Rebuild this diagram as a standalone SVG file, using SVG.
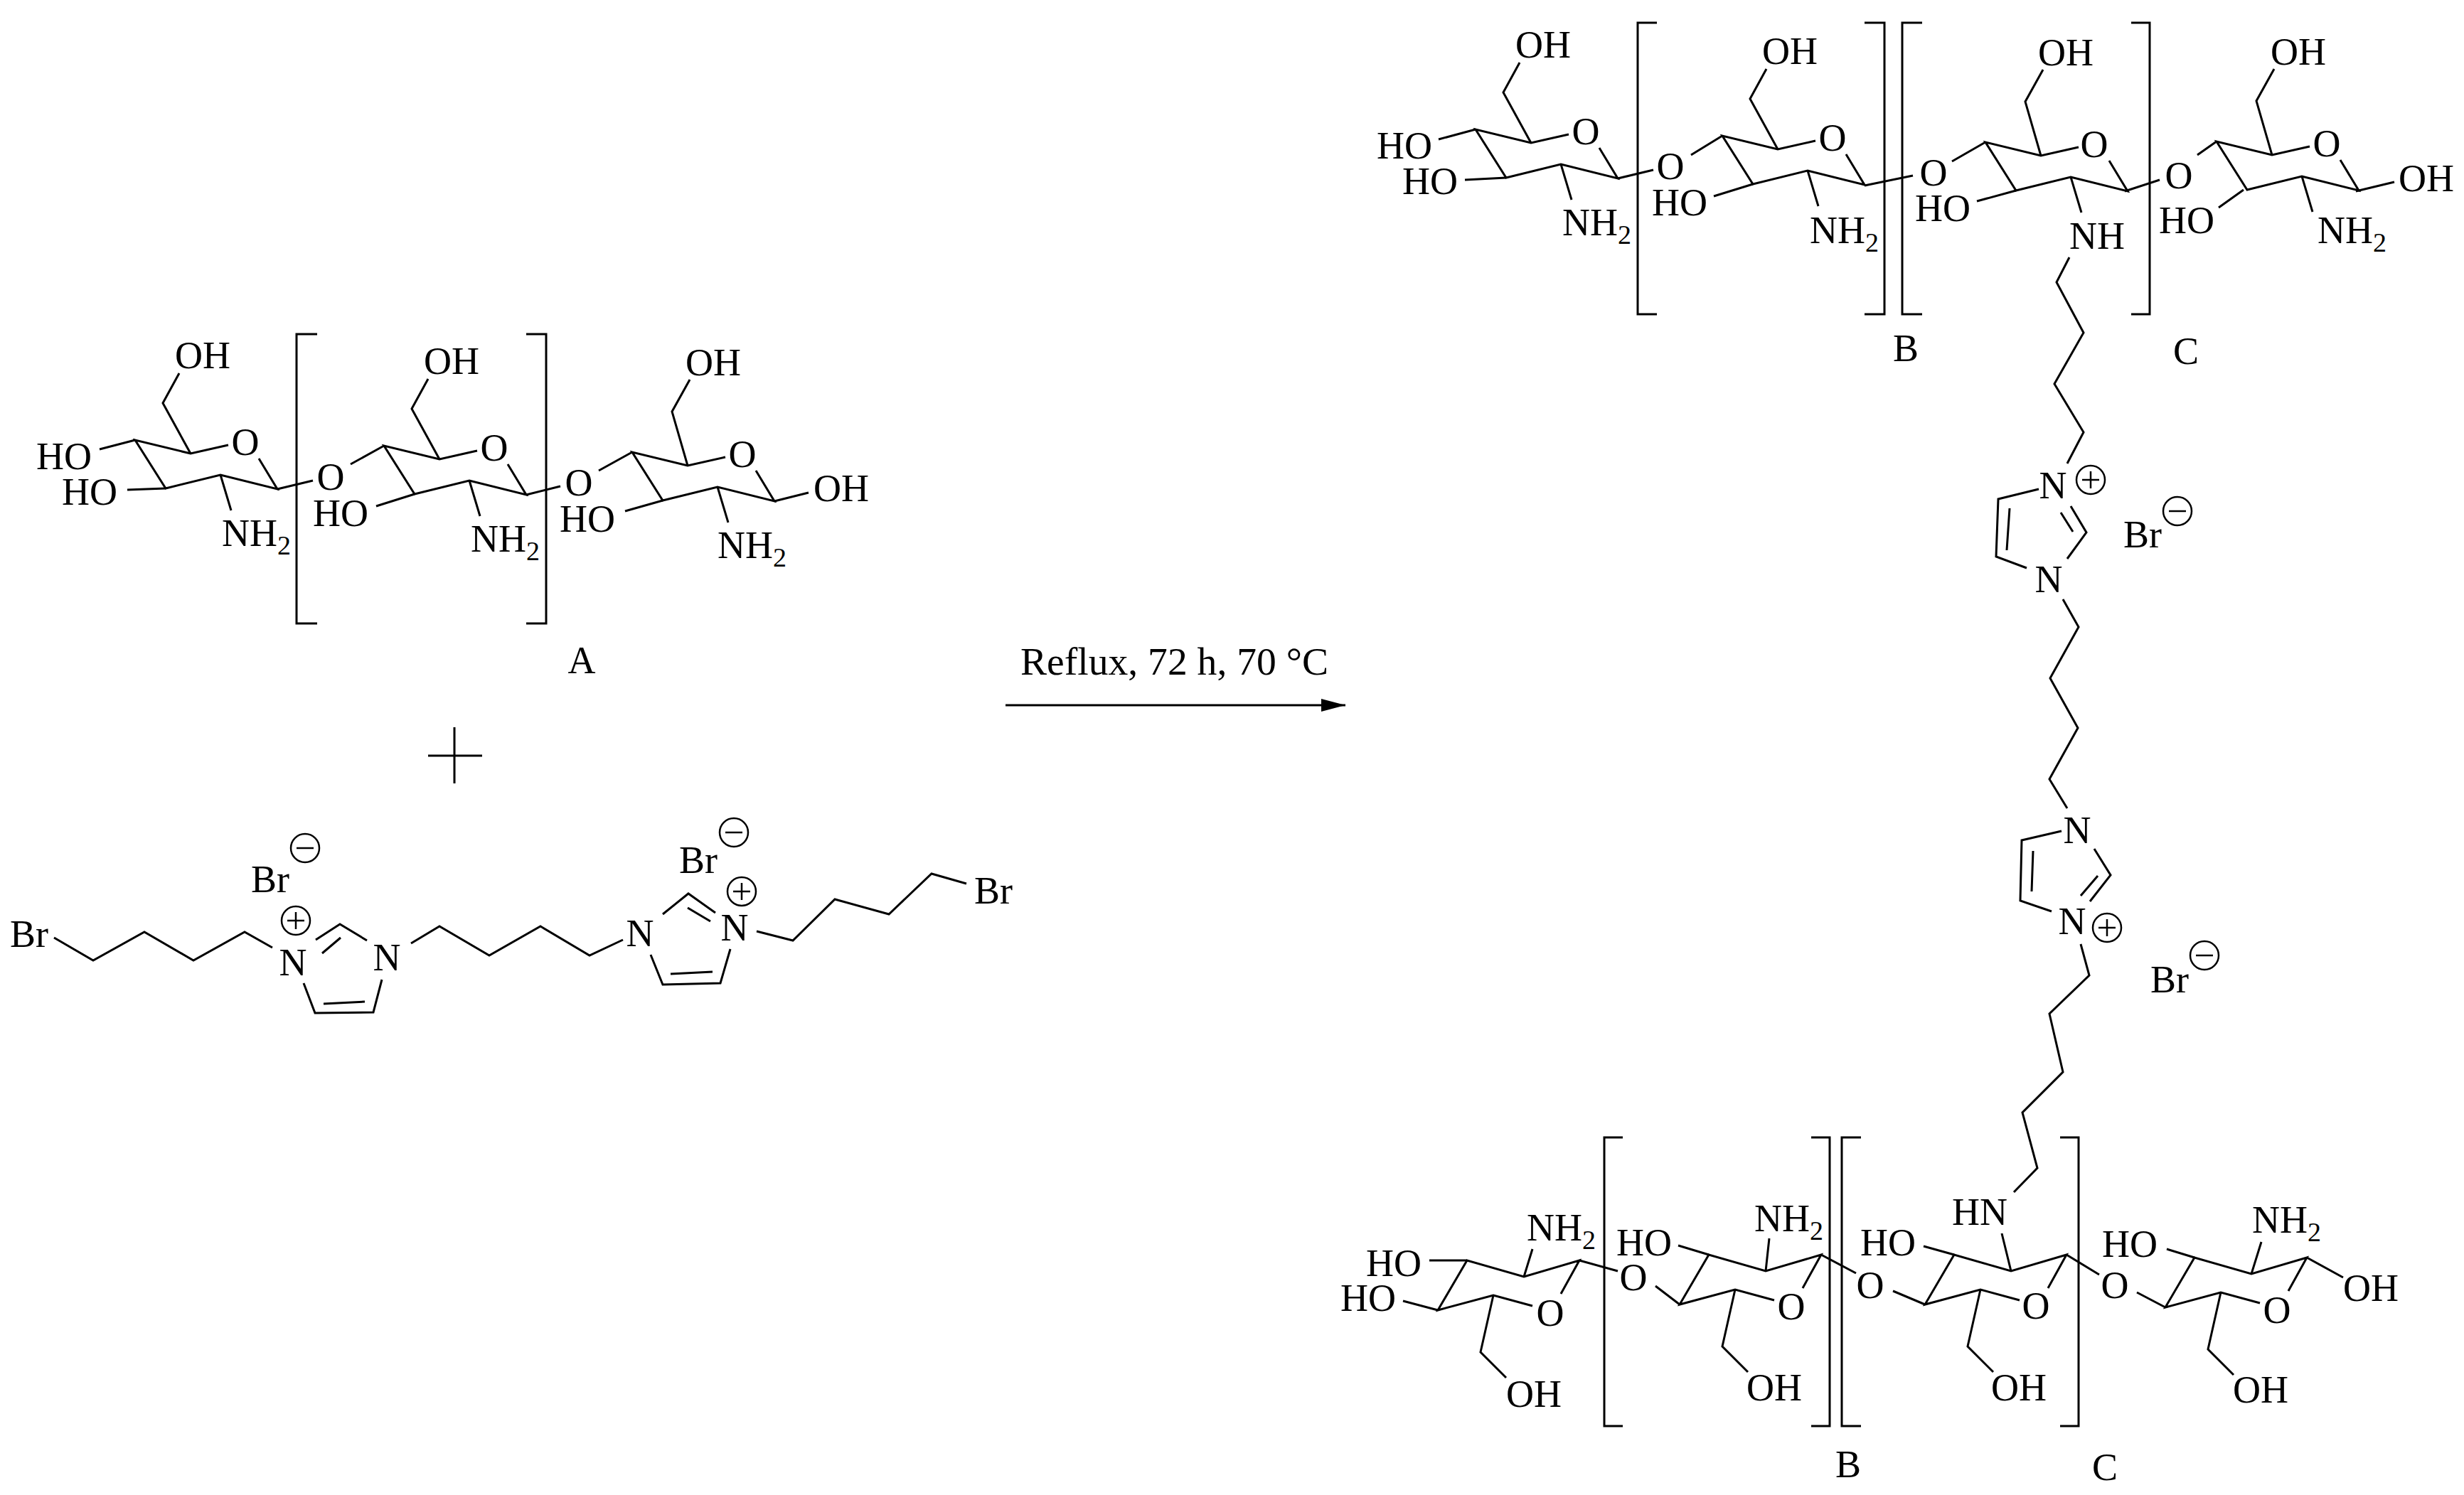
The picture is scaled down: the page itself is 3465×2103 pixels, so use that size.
<svg xmlns="http://www.w3.org/2000/svg" xmlns:xlink="http://www.w3.org/1999/xlink" width="3465" height="2103" viewBox="0 0 3465 2103">
<style>
text{font-family:"Liberation Serif","Times New Roman",serif;font-size:54px;fill:#000;stroke:none;transform:translate(-3px,0)}
.m{text-anchor:middle}
.sub{font-size:38px}
path,use{fill:none;stroke:#000;stroke-width:3;stroke-linejoin:miter}
.c circle{stroke:#000;stroke-width:2.5;fill:none}
.c path{stroke-width:2.5}
#arrowHead{fill:#000;stroke:none}
</style>
<defs>
<path id="ringA" d="M321 626L268 638L190 619L233 687L310 668L390 688L364 645"/>
<path id="chA" d="M268 638L229 567L252 525"/>
<path id="chB" d="M268 638L246 562L271 517"/>
<path id="nA" d="M310 668L325 718"/>
<path id="ringD" d="M2155 1837L2100 1822L2022 1843L2063 1773L2143 1796L2221 1773L2195 1820"/>
<path id="chD" d="M2100 1822L2082 1902L2118 1938"/>
<g id="plus" class="c"><circle r="20"/><path d="M-12 0H12M0-12V12"/></g>
<g id="minus" class="c"><circle r="20"/><path d="M-12 0H12"/></g>
<marker id="arrow" markerUnits="userSpaceOnUse" markerWidth="36" markerHeight="20" refX="34" refY="10" orient="auto"><path id="arrowHead" d="M0 1L34 10L0 19Z"/></marker>
</defs>

<g id="reactant-A">
<g id="connectors-A">
<use xlink:href="#ringA"/><use xlink:href="#chA"/><use xlink:href="#nA"/>
<use xlink:href="#ringA" x="350" y="8"/><use xlink:href="#chA" x="350" y="8"/><use xlink:href="#nA" x="350" y="8"/>
<use xlink:href="#ringA" x="699" y="17"/><use xlink:href="#chB" x="699" y="17"/><use xlink:href="#nA" x="699" y="17"/>
<path d="M140 632L190 619M179 689L233 687M390 688L440 676M493 653L540 627M529 712L583 695M740 696L788 684M842 662L889 636M879 719L932 704M1089 705L1137 693"/>
<path d="M446 470H417V877H446M740 470H768V877H740"/>
</g>
<text class="m" x="93" y="660">HO</text><text class="m" x="129" y="710">HO</text><text class="m" x="288" y="518">OH</text><text class="m" x="348" y="640">O</text><text x="315" y="768">NH<tspan class="sub" dy="12">2</tspan></text>
<text class="m" x="468" y="689">O</text>
<text class="m" x="482" y="740">HO</text><text class="m" x="638" y="526">OH</text><text class="m" x="698" y="648">O</text><text x="665" y="776">NH<tspan class="sub" dy="12">2</tspan></text>
<text class="m" x="817" y="697">O</text>
<text class="m" x="829" y="748">HO</text><text class="m" x="1006" y="528">OH</text><text class="m" x="1047" y="657">O</text><text x="1012" y="785">NH<tspan class="sub" dy="12">2</tspan></text>
<text class="m" x="1186" y="705">OH</text>
<text class="m" x="821" y="947">A</text>
</g>

<g id="plus-sign"><path d="M602 1063H678M639 1023V1102"/></g>

<g id="linker">
<g id="connectors-linker">
<path d="M76 1319L131 1351L203 1311L272 1351L344 1311L383 1333"/>
<path d="M444 1322L478 1300L516 1323M479 1319L453 1341"/>
<path d="M427 1383L443 1425L525 1424L537 1378M455 1412L513 1409"/>
<path d="M578 1327L618 1303L688 1344L760 1303L829 1344L876 1322"/>
<path d="M915 1343L932 1385L1013 1383L1027 1335M943 1370L1002 1367"/>
<path d="M932 1286L968 1257L1006 1284M967 1277L999 1296"/>
<path d="M1064 1310L1115 1323L1174 1265L1250 1286L1310 1229L1359 1243"/>
</g>
<text class="m" x="44" y="1332">Br</text>
<text class="m" x="415" y="1372">N</text><use xlink:href="#plus" x="416" y="1295"/>
<text class="m" x="383" y="1255">Br</text><use xlink:href="#minus" x="429" y="1193"/>
<text class="m" x="547" y="1365">N</text>
<text class="m" x="903" y="1331">N</text>
<text class="m" x="1036" y="1323">N</text><use xlink:href="#plus" x="1043" y="1254"/>
<text class="m" x="985" y="1228">Br</text><use xlink:href="#minus" x="1032" y="1171"/>
<text class="m" x="1400" y="1271">Br</text>
</g>

<g id="reaction-arrow">
<text x="1438" y="949" textLength="433" lengthAdjust="spacingAndGlyphs">Reflux, 72 h, 70 °C</text>
<path d="M1414 992H1892" marker-end="url(#arrow)"/>
</g>

<g id="product-top">
<g id="connectors-top">
<use xlink:href="#ringA" x="1885" y="-437"/><use xlink:href="#chA" x="1885" y="-437"/><use xlink:href="#nA" x="1885" y="-437"/>
<use xlink:href="#ringA" x="2232" y="-428"/><use xlink:href="#chA" x="2232" y="-428"/><use xlink:href="#nA" x="2232" y="-428"/>
<use xlink:href="#ringA" x="2602" y="-419"/><use xlink:href="#chB" x="2602" y="-419"/><use xlink:href="#nA" x="2602" y="-419"/>
<use xlink:href="#ringA" x="2927" y="-420"/><use xlink:href="#chB" x="2927" y="-420"/><use xlink:href="#nA" x="2927" y="-420"/>
<path d="M2023 196L2075 182M2060 253L2118 250M2275 251L2325 239M2378 218L2422 191M2410 276L2465 259M2622 261L2690 247M2745 227L2792 200M2780 283L2835 268M2988 269L3037 253M3090 218L3117 199M3155 267L3120 292M3313 269L3367 256"/>
<path d="M2330 32H2303V442H2330M2622 32H2650V442H2622M2703 32H2675V442H2703M2997 32H3023V442H2997"/>
<path d="M2910 362L2892 397L2930 468L2889 540L2930 608L2907 652"/>
</g>
<text class="m" x="1978" y="223">HO</text><text class="m" x="2014" y="273">HO</text><text class="m" x="2173" y="81">OH</text><text class="m" x="2233" y="203">O</text><text x="2200" y="331">NH<tspan class="sub" dy="12">2</tspan></text>
<text class="m" x="2352" y="252">O</text>
<text class="m" x="2365" y="303">HO</text><text class="m" x="2520" y="90">OH</text><text class="m" x="2580" y="212">O</text><text x="2548" y="342">NH<tspan class="sub" dy="12">2</tspan></text>
<text class="m" x="2722" y="261">O</text>
<text class="m" x="2735" y="311">HO</text><text class="m" x="2908" y="92">OH</text><text class="m" x="2948" y="221">O</text><text class="m" x="2952" y="350">NH</text>
<text class="m" x="3067" y="265">O</text>
<text class="m" x="3078" y="328">HO</text><text class="m" x="3235" y="91">OH</text><text class="m" x="3275" y="220">O</text><text x="3262" y="342">NH<tspan class="sub" dy="12">2</tspan></text>
<text class="m" x="3415" y="269">OH</text>
<text class="m" x="2683" y="508">B</text><text class="m" x="3077" y="512">C</text>
</g>

<g id="imidazolium-chain">
<g id="connectors-chain">
<path d="M2867 688L2810 702L2807 783L2850 799M2826 715L2822 774"/>
<path d="M2912 712L2934 749L2907 786M2898 721L2915 748"/>
<path d="M2901 843L2923 882L2883 954L2922 1024L2882 1096L2907 1137"/>
<path d="M2899 1169L2843 1182L2841 1267L2885 1282M2859 1197L2857 1254"/>
<path d="M2945 1194L2968 1231L2939 1268M2950 1232L2926 1260"/>
<path d="M2926 1328L2938 1372L2882 1426L2901 1508L2844 1565L2865 1643L2832 1677"/>
</g>
<text class="m" x="2890" y="701">N</text><use xlink:href="#plus" x="2940" y="675"/>
<text class="m" x="2884" y="833">N</text>
<text class="m" x="3016" y="770">Br</text><use xlink:href="#minus" x="3062" y="719"/>
<text class="m" x="2924" y="1186">N</text>
<text class="m" x="2917" y="1314">N</text><use xlink:href="#plus" x="2963" y="1305"/>
<text class="m" x="3054" y="1396">Br</text><use xlink:href="#minus" x="3100" y="1344"/>
</g>

<g id="product-bottom">
<g id="connectors-bottom">
<use xlink:href="#ringD"/><use xlink:href="#chD"/>
<use xlink:href="#ringD" x="340" y="-8"/><use xlink:href="#chD" x="340" y="-8"/>
<use xlink:href="#ringD" x="685" y="-8"/><use xlink:href="#chD" x="685" y="-8"/>
<use xlink:href="#ringD" x="1023" y="-4"/><use xlink:href="#chD" x="1023" y="-4"/>
<path d="M2143 1796L2155 1757M2483 1788L2488 1742M2828 1788L2815 1735M3166 1792L3180 1747"/>
<path d="M2010 1773L2063 1773M1973 1830L2022 1843M2221 1773L2275 1788M2328 1809L2362 1835M2360 1752L2403 1765M2561 1765L2610 1791M2662 1816L2707 1835M2705 1753L2748 1765M2906 1765L2952 1793M3005 1818L3045 1839M3047 1757L3086 1769M3244 1769L3295 1797"/>
<path d="M2282 1600H2256V2006H2282M2547 1600H2573V2006H2547M2617 1600H2590V2006H2617M2897 1600H2923V2006H2897"/>
</g>
<text class="m" x="1963" y="1795">HO</text><text class="m" x="1927" y="1844">HO</text><text x="2150" y="1745">NH<tspan class="sub" dy="12">2</tspan></text><text class="m" x="2183" y="1865">O</text><text class="m" x="2160" y="1979">OH</text>
<text class="m" x="2300" y="1815">O</text>
<text class="m" x="2315" y="1766">HO</text><text x="2470" y="1732">NH<tspan class="sub" dy="12">2</tspan></text><text class="m" x="2522" y="1856">O</text><text class="m" x="2498" y="1970">OH</text>
<text class="m" x="2633" y="1826">O</text>
<text class="m" x="2658" y="1766">HO</text><text class="m" x="2787" y="1723">HN</text><text class="m" x="2866" y="1855">O</text><text class="m" x="2842" y="1970">OH</text>
<text class="m" x="2977" y="1826">O</text>
<text class="m" x="2998" y="1768">HO</text><text x="3170" y="1734">NH<tspan class="sub" dy="12">2</tspan></text><text class="m" x="3205" y="1861">O</text><text class="m" x="3182" y="1973">OH</text>
<text class="m" x="3337" y="1830">OH</text>
<text class="m" x="2602" y="2078">B</text><text class="m" x="2963" y="2082">C</text>
</g>
</svg>
